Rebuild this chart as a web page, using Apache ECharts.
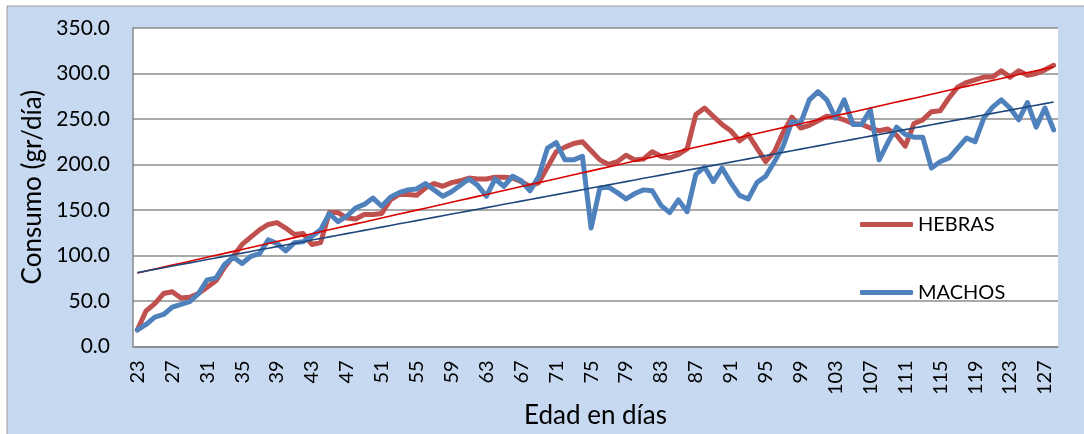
<!DOCTYPE html>
<html>
<head>
<meta charset="utf-8">
<title>Consumo HEBRAS / MACHOS</title>
<script src="https://cdn.jsdelivr.net/npm/echarts@6/dist/echarts.min.js"></script>
<style>
    html, body { margin: 0; padding: 0; background: #fff; }
    #chart { width: 1084px; height: 434px; }
</style>
</head>
<body>
<div id="chart"></div>
<script>
// dias de edad 23..128
var dias = [];
for (var d = 23; d <= 128; d++) dias.push(String(d));

// consumo gr/dia - hembras
var hebras = [
    18, 39, 47, 58, 60, 53, 54, 58, 65, 72,
    87, 99, 112, 120, 128, 134, 136, 130, 123, 124,
    112, 114, 147, 147, 141, 140, 145, 145, 146, 161,
    167, 167, 166, 174, 179, 176, 180, 182, 185, 184,
    184, 186, 186, 185, 181, 176, 180, 197, 214, 219,
    223, 225, 215, 205, 200, 203, 210, 205, 206, 214,
    209, 207, 211, 217, 255, 262, 253, 244, 237, 226,
    233, 218, 203, 214, 235, 252, 240, 243, 248, 253,
    252, 249, 245, 244, 240, 237, 239, 232, 220, 245,
    249, 258, 259, 273, 285, 290, 293, 296, 296, 303,
    296, 303, 298, 300, 304, 309
];

// consumo gr/dia - machos
var machos = [
    18, 24, 32, 35, 43, 46, 49, 58, 73, 75,
    90, 98, 91, 99, 102, 117, 113, 105, 114, 115,
    121, 128, 146, 137, 143, 152, 156, 163, 154, 164,
    169, 172, 173, 179, 172, 165, 170, 177, 184, 177,
    165, 184, 176, 187, 182, 171, 187, 218, 224, 205,
    205, 209, 130, 174, 175, 169, 162, 168, 172, 171,
    155, 147, 161, 148, 189, 197, 181, 196, 180, 166,
    162, 180, 187, 203, 220, 247, 245, 271, 280, 271,
    251, 271, 244, 244, 260, 205, 224, 241, 233, 230,
    230, 196, 203, 207, 218, 229, 225, 251, 263, 271,
    262, 249, 268, 241, 262, 238
];

// linea de tendencia (minimos cuadrados, como en excel)
function tendencia(vals) {
    var n = vals.length, sx = 0, sy = 0, sxy = 0, sxx = 0;
    vals.forEach(function (v, i) { sx += i; sy += v; sxy += i * v; sxx += i * i; });
    var b = (n * sxy - sx * sy) / (n * sxx - sx * sx);
    var a = (sy - b * sx) / n;
    return vals.map(function (v, i) { return +(a + b * i).toFixed(2); });
}

var fuente = 'Lato, "Open Sans", sans-serif';
var chart = echarts.init(document.getElementById('chart'));

chart.setOption({
    animation: false,
    backgroundColor: '#fff',
    textStyle: { fontFamily: fuente, color: '#000' },
    graphic: [{
        type: 'rect',
        z: -10,
        silent: true,
        shape: { x: 7, y: 6, width: 1090, height: 440 },
        style: { fill: '#C6D9F1', stroke: '#9c9c9c', lineWidth: 1 }
    }],
    grid: {
        left: 133,
        right: 26,
        top: 28,
        bottom: 87,
        show: true,
        backgroundColor: '#fff',
        borderWidth: 0
    },
    legend: {
        orient: 'vertical',
        left: 855,
        top: 208,
        itemWidth: 53,
        itemHeight: 5,
        itemGap: 45,
        icon: 'roundRect',
        data: ['HEBRAS', 'MACHOS'],
        textStyle: { fontFamily: fuente, fontSize: 20, color: '#000', lineHeight: 23 }
    },
    xAxis: {
        type: 'category',
        data: dias,
        boundaryGap: true,
        name: 'Edad en días',
        nameLocation: 'middle',
        nameGap: 50,
        nameTextStyle: { fontSize: 26, color: '#000', fontFamily: fuente },
        axisLine: { lineStyle: { color: '#888', width: 1.5 } },
        axisTick: { show: false },
        axisLabel: {
            interval: 3,
            rotate: 90,
            margin: 14,
            fontSize: 20,
            color: '#000',
            fontFamily: fuente
        }
    },
    yAxis: {
        type: 'value',
        min: 0,
        max: 350,
        interval: 50,
        name: 'Consumo (gr/día)',
        nameLocation: 'middle',
        nameGap: 82,
        nameTextStyle: { fontSize: 26, color: '#000', fontFamily: fuente },
        axisLine: { show: true, lineStyle: { color: '#888', width: 1.5 } },
        axisTick: { show: false },
        axisLabel: {
            margin: 23,
            fontSize: 21,
            color: '#000',
            fontFamily: fuente,
            formatter: function (v) { return v.toFixed(1); }
        },
        splitLine: { lineStyle: { color: '#8c8c8c', width: 1.5 } }
    },
    series: [
        {
            name: 'HEBRAS',
            type: 'line',
            data: hebras,
            showSymbol: false,
            color: '#C0504D',
            lineStyle: { width: 5, color: '#C0504D', cap: 'round', join: 'round' },
            z: 2
        },
        {
            name: 'MACHOS',
            type: 'line',
            data: machos,
            showSymbol: false,
            color: '#4F81BD',
            lineStyle: { width: 5, color: '#4F81BD', cap: 'round', join: 'round' },
            z: 3
        },
        {
            name: 'Tendencia HEBRAS',
            type: 'line',
            data: tendencia(hebras),
            showSymbol: false,
            lineStyle: { width: 1.6, color: '#D90000' },
            z: 4
        },
        {
            name: 'Tendencia MACHOS',
            type: 'line',
            data: tendencia(machos),
            showSymbol: false,
            lineStyle: { width: 1.6, color: '#1F497D' },
            z: 5
        }
    ]
});
</script>
</body>
</html>
